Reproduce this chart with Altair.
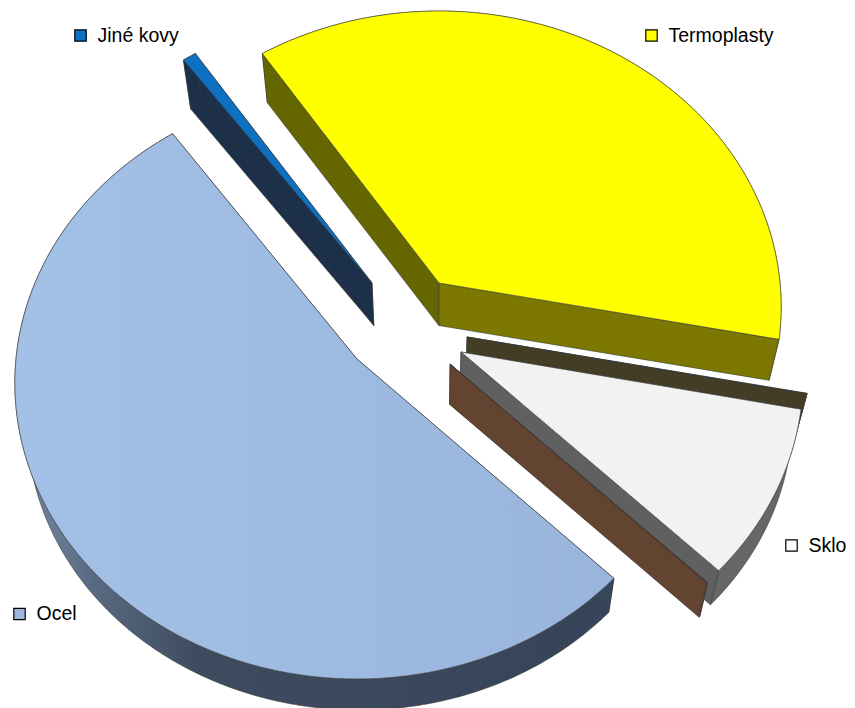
import numpy as np
import pandas as pd
import altair as alt

W, H = 847, 708
names = ["Jiné kovy", "Termoplasty", "Tmavý", "Sklo", "Hnědý", "Ocel"]
shares = [0.7, 37.35, 0.05, 9.3, 0.05, 52.8]
top_fill = ["#0e70c0", "#ffff00", "#443d25", "#f2f2f2", "#634430", None]
start_side = ["#1c3049", "#666600", "#443d25", "#606060", "#634430", "#38465b"]
end_side = ["#1c3049", "#7b7700", "#443d25", "#606060", "#634430", "#38465b"]
rim_side = ["#1c3049", "#7b7700", "#443d25", "#666666", "#634430", None]
apex_x = [372, 439, 467, 461, 450, 357]
apex_y = [283, 283, 337, 352, 364, 359]

legend_labels = ["Jiné kovy", "Termoplasty", "Sklo", "Ocel"]
legend_fill = ["#0e70c0", "#ffff00", "#ffffff", "#9ab7de"]
legend_x = [80.5, 651.5, 791.5, 19.5]
legend_y = [35.5, 35.5, 545.5, 614]

OCEL_TOP = alt.Gradient(gradient="linear", x1=0, y1=0, x2=1, y2=0,
                        stops=[alt.GradientStop(color="#a3c0e6", offset=0),
                               alt.GradientStop(color="#99b5db", offset=1)])
OCEL_RIM = alt.Gradient(gradient="linear", x1=0, y1=0, x2=1, y2=0,
                        stops=[alt.GradientStop(color="#7a8ca6", offset=0),
                               alt.GradientStop(color="#56687f", offset=0.14),
                               alt.GradientStop(color="#3e4b5f", offset=0.31),
                               alt.GradientStop(color="#36445a", offset=1)])

PHI0 = np.radians(-36.1)
edges = PHI0 + np.cumsum([0] + shares) / 100 * 2 * np.pi
RX, RY, TILT = 341.0, 294.0, 0.081

def rim_pts(ph):
    w = 1 + TILT * np.cos(ph)
    return RX * np.sin(ph) / w, -RY * np.cos(ph) / w

VX, VY, K = 435.0, 1750.0, 0.029
def drop(x, y):
    return x + K * (VX - x), y + K * (VY - y)

polys = []
def add(xs, ys, fill):
    xs = [float(v) for v in xs]
    ys = [float(v) for v in ys]
    polys.append((xs, ys, fill))

for i in range(len(names)):
    ph = np.linspace(edges[i], edges[i + 1], max(3, int(shares[i] * 6)))
    dx, dy = rim_pts(ph)
    rx, ry = apex_x[i] + dx, apex_y[i] + dy
    bx, by = drop(rx, ry)
    ax, ay = apex_x[i], apex_y[i]
    abx, aby = drop(ax, ay)
    add(list(rx) + list(bx[::-1]), list(ry) + list(by[::-1]), rim_side[i] or OCEL_RIM)
    add([ax, rx[0], bx[0], abx], [ay, ry[0], by[0], aby], start_side[i])
    add([ax, rx[-1], bx[-1], abx], [ay, ry[-1], by[-1], aby], end_side[i])
    add([ax] + list(rx), [ay] + list(ry), top_fill[i] or OCEL_TOP)

xsc = alt.Scale(domain=[8, W], range=[0, W - 8], nice=False, zero=False)
ysc = alt.Scale(domain=[8, H], range=[0, H - 8], nice=False, zero=False)
X = alt.X("x:Q", scale=xsc, axis=None)
Y = alt.Y("y:Q", scale=ysc, axis=None)
layers = []
for xs, ys, fill in polys:
    df = pd.DataFrame({"x": xs + [xs[0]], "y": ys + [ys[0]], "o": range(len(xs) + 1)})
    layers.append(alt.Chart(df).mark_line(fill=fill, stroke="#3a3a3a", strokeWidth=0.6, clip=False).encode(x=X, y=Y, order="o:Q"))

leg = pd.DataFrame({"l": legend_labels, "f": legend_fill, "x": legend_x, "y": legend_y})
layers.append(alt.Chart(leg).mark_square(size=130, stroke="#000000", strokeWidth=1.2, opacity=1, fillOpacity=1).encode(
    x=X, y=Y, fill=alt.Fill("f:N", scale=None, legend=None)))
layers.append(alt.Chart(leg).transform_calculate(tx="datum.x+17").mark_text(
    align="left", baseline="middle", font="Liberation Sans", fontSize=19.5, color="#000000").encode(
    x=alt.X("tx:Q", scale=xsc, axis=None), y=Y, text="l:N"))

chart = alt.layer(*layers).properties(width=W - 8, height=H - 8, padding=0,
                                      autosize=alt.AutoSizeParams(type="none")).configure_view(stroke=None)
chart.save("out.html", embed_options={"renderer": "svg", "actions": False})
